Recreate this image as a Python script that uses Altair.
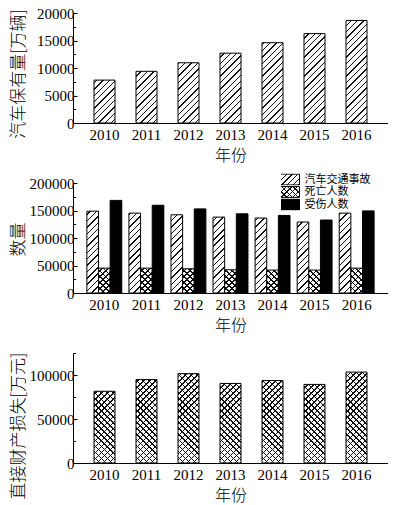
import math
import altair as alt
import pandas as pd

# ---------------- data ----------------
years = ["2010", "2011", "2012", "2013", "2014", "2015", "2016"]
car_stock = [7800, 9400, 10950, 12700, 14600, 16250, 18650]
accidents = [148800, 145200, 142200, 138000, 136300, 129100, 145200]
deaths = [45200, 45200, 44000, 42200, 41700, 41700, 45200]
injured = [168400, 159500, 152900, 144000, 141000, 132700, 149300]
loss = [81500, 94800, 101500, 90400, 93700, 89300, 103300]
series = ["汽车交通事故", "死亡人数", "受伤人数"]

y1_ticks = [0, 5000, 10000, 15000, 20000]
y1_minor = [2500, 7500, 12500, 17500]
y2_ticks = [0, 50000, 100000, 150000, 200000]
y2_minor = [25000, 75000, 125000, 175000]
y3_ticks = [0, 50000, 100000]
y3_minor = [25000, 75000, 125000]

# ---------------- layout / style ----------------
W = 315
H = 110
Y1MAX, Y2MAX, Y3MAX = 20000, 200000, 125000
LINE = "#111"
WHITE = "#fff"
CLEAR = "rgba(0,0,0,0)"
CJK = "Noto Sans CJK SC"
SERIF = "Liberation Serif"


def stops_str(S, p, lw, line, gap):
    d = p * math.sqrt(2) / S
    half = lw * math.sqrt(2) / 2 / S
    st = [(0.0, gap)]
    k = 1
    while k * d - half < 1:
        t = k * d
        a = max(t - half, 0.0)
        b = min(t + half, 1.0)
        st += [(a, gap), (a, line), (b, line), (b, gap)]
        k += 1
    st.append((1.0, gap))
    return "[" + ",".join("{'offset':%.5f,'color':'%s'}" % s for s in st) + "]"


def grad(kind, w, h, hmax, p, lw, line, gap):
    S = w + hmax
    h = "(%s)" % h
    den = "(%.4f+%s*%s)" % (w * w, h, h)
    a = "(%.4f/%s)" % (S, den)
    if kind == "/":
        y1 = "(-(%.4f-%s)/%s)" % (hmax, h, h)
        x1, x2, y2 = "0", "(%s*%.4f)" % (a, w), "(%s+%s*%s)" % (y1, a, h)
    else:
        x1, y1 = "0", "1"
        x2, y2 = "(%s*%.4f)" % (a, w), "(1-%s*%s)" % (a, h)
    return "{'gradient':'linear','x1':%s,'y1':%s,'x2':%s,'y2':%s,'stops':%s}" % (
        x1, y1, x2, y2, stops_str(S, p, lw, line, gap))


def ytitle_axis(title, values, ty, fmt="d"):
    return alt.Axis(title=title, values=values, format=fmt, orient="left",
                    tickSize={"expr": "-4"}, labelPadding=3,
                    titleAngle=270, titleX=-55, titleY=ty,
                    titleBaseline="middle", titleAlign="center")


def minor_axis(values):
    return alt.Axis(title=None, values=values, labels=False, domain=False,
                    orient="left", tickSize={"expr": "-2.5"})


xaxis = alt.Axis(title="年份", labelAngle=0, ticks=False, labelPadding=4,
                 titleY=32, titleBaseline="middle", titleFontSize=16)

# ---------------- panel 1 ----------------
df1 = pd.DataFrame({"year": years, "v": car_stock})
x1s = alt.Scale(domain=years, paddingInner=0.5, paddingOuter=0.5)
bw1 = W / 7.5 * 0.5
y1s = alt.Scale(domain=[0, Y1MAX], nice=False)
g1 = grad("/", bw1, "datum.v*%.8f" % (H / Y1MAX), H, 4.5, 1.0, LINE, WHITE)

p1_bars = alt.Chart(df1).mark_bar(stroke="black", strokeWidth=1).encode(
    x=alt.X("year:N", scale=x1s, axis=xaxis),
    y=alt.Y("v:Q", scale=y1s, axis=ytitle_axis("汽车保有量[万辆]", y1_ticks, H * 0.55)),
    fill=alt.value({"expr": g1}),
)
p1_minor = alt.Chart(df1).transform_filter("false").mark_bar().encode(
    x=alt.X("year:N", scale=x1s, axis=xaxis),
    y=alt.Y("v:Q", scale=y1s, axis=minor_axis(y1_minor)),
)
p1 = alt.layer(p1_bars, p1_minor).resolve_axis(y="independent").properties(width=W, height=H)

# ---------------- panel 2 ----------------
df2 = pd.DataFrame({
    "year": years * 3,
    "series": [series[0]] * 7 + [series[1]] * 7 + [series[2]] * 7,
    "v": accidents + deaths + injured,
})
x2s = alt.Scale(domain=years, paddingInner=0.17, paddingOuter=0.33)
step2 = W / (7 - 0.17 + 0.66)
bw2 = step2 * 0.83 / 3
xo = alt.XOffset("series:N", scale=alt.Scale(domain=series, paddingInner=0, paddingOuter=0))
y2s = alt.Scale(domain=[0, Y2MAX], nice=False)
h2 = "datum.v*%.8f" % (H / Y2MAX)
y2none = alt.Y("v:Q", scale=y2s, axis=None)
x2enc = alt.X("year:N", scale=x2s, axis=xaxis)

g2_acc = grad("/", bw2, h2, H, 4.5, 1.0, LINE, WHITE)
g2_d1 = grad("\\", bw2, h2, H, 4.2, 1.0, LINE, WHITE)
g2_d2 = grad("/", bw2, h2, H, 4.2, 1.0, LINE, CLEAR)


def f2(name):
    return alt.Chart(df2).transform_filter(alt.datum.series == name)


p2_acc = f2(series[0]).mark_bar(stroke="black", strokeWidth=1).encode(
    x=x2enc, xOffset=xo,
    y=alt.Y("v:Q", scale=y2s, axis=ytitle_axis("数量", y2_ticks, H * 0.51)),
    fill=alt.value({"expr": g2_acc}))
p2_d1 = f2(series[1]).mark_bar(strokeWidth=0).encode(
    x=x2enc, xOffset=xo, y=y2none, fill=alt.value({"expr": g2_d1}))
p2_d2 = f2(series[1]).mark_bar(stroke="black", strokeWidth=1).encode(
    x=x2enc, xOffset=xo, y=y2none, fill=alt.value({"expr": g2_d2}))
p2_inj = f2(series[2]).mark_bar(stroke="black", strokeWidth=1, fill="black").encode(
    x=x2enc, xOffset=xo, y=y2none)
p2_minor = alt.Chart(df2).transform_filter("false").mark_bar().encode(
    x=x2enc, xOffset=xo, y=alt.Y("v:Q", scale=y2s, axis=minor_axis(y2_minor)))

LW, LH = 24.0, 10.8
leg_acc = grad("/", LW, "%.3f" % LH, LH, 4.0, 1.0, LINE, WHITE)
leg_d1 = grad("\\", LW, "%.3f" % LH, LH, 4.0, 1.0, LINE, WHITE)
leg_d2 = grad("/", LW, "%.3f" % LH, LH, 4.0, 1.0, LINE, CLEAR)
legend_common = dict(title=None, orient="none", legendX=208, legendY=-9.5,
                     symbolType="M-2,-0.9H2V0.9H-2Z", symbolSize=144,
                     labelFont=CJK, labelFontSize=11, labelOffset=10.5,
                     clipHeight=12, rowPadding=0.5, padding=0, symbolOpacity=1)
p2_leg1 = alt.Chart(df2).transform_filter("false").mark_bar(stroke="black", strokeWidth=1).encode(
    x=x2enc, xOffset=xo, y=y2none,
    fill=alt.Fill("series:N", scale=alt.Scale(domain=series, range=[{"expr": leg_acc}, {"expr": leg_d1}, "black"]),
                  legend=alt.Legend(symbolStrokeColor="black", symbolStrokeWidth=1, labelColor="black",
                                    **legend_common)))
p2_leg2 = alt.Chart(df2).transform_filter("false").mark_bar(stroke="transparent", strokeWidth=0).encode(
    x=x2enc, xOffset=xo, y=y2none,
    fill=alt.Fill("series:N", scale=alt.Scale(domain=series, range=["transparent", {"expr": leg_d2}, "transparent"]),
                  legend=alt.Legend(symbolStrokeColor="transparent", symbolStrokeWidth=0, labelExpr="''",
                                    **legend_common)))

p2 = alt.layer(p2_acc, p2_d1, p2_d2, p2_inj, p2_minor, p2_leg1, p2_leg2).resolve_axis(
    y="independent").resolve_scale(fill="independent").properties(width=W, height=H)

# ---------------- panel 3 ----------------
df3 = pd.DataFrame({"year": years, "v": loss})
y3s = alt.Scale(domain=[0, Y3MAX], nice=False)
h3 = "datum.v*%.8f" % (H / Y3MAX)
g3_1 = grad("\\", bw1, h3, H, 4.2, 1.0, LINE, WHITE)
g3_2 = grad("/", bw1, h3, H, 4.2, 1.0, LINE, CLEAR)
p3_a = alt.Chart(df3).mark_bar(strokeWidth=0).encode(
    x=alt.X("year:N", scale=x1s, axis=xaxis),
    y=alt.Y("v:Q", scale=y3s, axis=ytitle_axis("直接财产损失[万元]", y3_ticks, H * 0.66)),
    fill=alt.value({"expr": g3_1}))
p3_b = alt.Chart(df3).mark_bar(stroke="black", strokeWidth=1).encode(
    x=alt.X("year:N", scale=x1s, axis=xaxis),
    y=alt.Y("v:Q", scale=y3s, axis=None),
    fill=alt.value({"expr": g3_2}))
p3_minor = alt.Chart(df3).transform_filter("false").mark_bar().encode(
    x=alt.X("year:N", scale=x1s, axis=xaxis),
    y=alt.Y("v:Q", scale=y3s, axis=minor_axis(y3_minor)))
p3 = alt.layer(p3_a, p3_b, p3_minor).resolve_axis(y="independent").properties(width=W, height=H)

chart = alt.vconcat(p1, p2, p3, spacing=60, bounds="flush").properties(
    padding={"left": 0, "top": -2, "right": 0, "bottom": 0}
).configure_axis(
    labelFont=SERIF, labelFontSize=15, labelColor="black",
    titleFont=CJK, titleFontSize=17, titleFontWeight=300, titleColor="black",
    domainColor="black", domainWidth=1, tickColor="black", tickWidth=1, grid=False,
).configure_legend(labelColor="black").configure_view(stroke=None)

chart.save("out.html", embed_options={"renderer": "svg", "actions": False})
